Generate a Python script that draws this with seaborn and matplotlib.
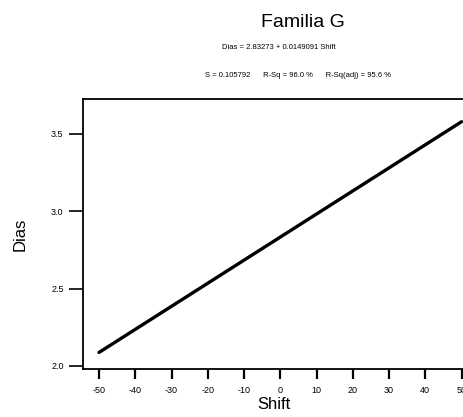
import matplotlib
matplotlib.use("Agg")
import matplotlib.pyplot as plt
import seaborn as sns
import pandas as pd

# Fitted regression: Dias = intercept + slope * Shift
intercept = 2.83273
slope = 0.0149091
s_value = 0.105792
r_sq = 96.0
r_sq_adj = 95.6
shift_range = [-50, 50]
x_ticks = [-50, -40, -30, -20, -10, 0, 10, 20, 30, 40, 50]
y_ticks = [2.0, 2.5, 3.0, 3.5]

sns.set_style("ticks", {"text.color": "black", "axes.labelcolor": "black",
                        "xtick.color": "black", "ytick.color": "black",
                        "axes.edgecolor": "black"})
plt.rcParams["font.family"] = ["Liberation Sans", "DejaVu Sans"]

df = pd.DataFrame({"Shift": shift_range,
                   "Dias": [intercept + slope * v for v in shift_range]})

fig = plt.figure(figsize=(4.64, 4.17), dpi=100)
ax = fig.add_axes([0.179, 0.115, 0.822, 0.648])

sns.lineplot(data=df, x="Shift", y="Dias", ax=ax, color="black", linewidth=2.4)

ax.set_xlim(-54.4, 50.8)
ax.set_ylim(1.98, 3.726)
ax.set_xticks(x_ticks)
ax.set_yticks(y_ticks)
ax.set_xticklabels([str(v) for v in x_ticks], fontsize=6.5)
ax.set_yticklabels([f"{v:.1f}" for v in y_ticks], fontsize=6.5)
ax.tick_params(axis="x", direction="out", length=7, width=1.6, pad=5)
ax.tick_params(axis="y", direction="out", length=10, width=1.2, pad=4)
for side in ["left", "bottom", "top"]:
    ax.spines[side].set_visible(True)
    ax.spines[side].set_linewidth(1.3)
    ax.spines[side].set_color("black")
ax.spines["right"].set_visible(False)

ax.set_xlabel("Shift", fontsize=12, labelpad=2)
ax.set_ylabel("Dias", fontsize=12, labelpad=17)

fig.text(0.653, 0.945, "Familia G", ha="center", va="center", fontsize=14,
         color="black")
fig.text(0.6, 0.887, f"Dias = {intercept} + {slope} Shift",
         ha="center", va="center", fontsize=5.5, color="black")
fig.text(0.643, 0.82,
         f"S = {s_value}      R-Sq = {r_sq:.1f} %      R-Sq(adj) = {r_sq_adj:.1f} %",
         ha="center", va="center", fontsize=5.5, color="black")

fig.savefig("out.png", dpi=100)
